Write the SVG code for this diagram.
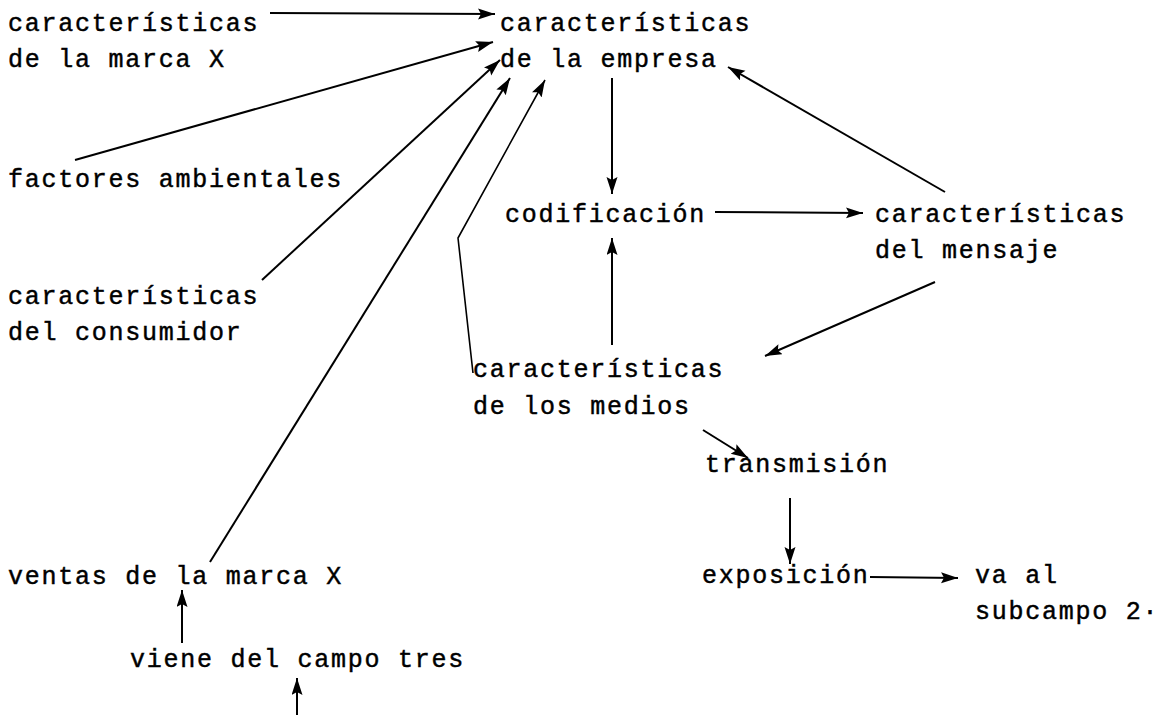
<svg xmlns="http://www.w3.org/2000/svg" width="1172" height="715" viewBox="0 0 1172 715">
  <style>
    .t { font-family: "Liberation Mono", "DejaVu Sans Mono", monospace; font-size: 25px; letter-spacing: 1.75px; fill: #000; stroke: #000; stroke-width: 0.45px; }
    .c { fill: none; stroke: #000; stroke-width: 2; }
    .thin { stroke-width: 1.6; }
  </style>
  <defs>
    <marker id="ah" markerUnits="userSpaceOnUse" markerWidth="20" markerHeight="12" refX="17" refY="5.5" orient="auto">
      <path d="M0,0 L17,5.5 L0,11 L3,5.5 Z" fill="#000"/>
    </marker>
  </defs>
  <rect width="1172" height="715" fill="#fff"/>

  <g id="connectors">
    <line class="c" x1="270" y1="13" x2="495" y2="14" marker-end="url(#ah)"/>
    <line class="c" x1="75" y1="160" x2="493" y2="42" marker-end="url(#ah)"/>
    <line class="c" x1="262" y1="280" x2="500" y2="60" marker-end="url(#ah)"/>
    <line class="c" x1="210" y1="562" x2="510" y2="78" marker-end="url(#ah)"/>
    <polyline class="c thin" points="473,373 458,238 545,80" marker-end="url(#ah)"/>
    <line class="c" x1="612" y1="78" x2="612" y2="194" marker-end="url(#ah)"/>
    <line class="c" x1="715" y1="212" x2="863" y2="213" marker-end="url(#ah)"/>
    <line class="c" x1="945" y1="192" x2="728" y2="67" marker-end="url(#ah)"/>
    <line class="c" x1="935" y1="282" x2="765" y2="356" marker-end="url(#ah)"/>
    <line class="c" x1="612" y1="345" x2="612" y2="238" marker-end="url(#ah)"/>
    <line class="c" x1="703" y1="430" x2="748" y2="458" marker-end="url(#ah)"/>
    <line class="c" x1="790" y1="498" x2="790" y2="564" marker-end="url(#ah)"/>
    <line class="c" x1="870" y1="577" x2="958" y2="578" marker-end="url(#ah)"/>
    <line class="c" x1="182" y1="643" x2="182" y2="590" marker-end="url(#ah)"/>
    <line class="c" x1="297" y1="715" x2="297" y2="678" marker-end="url(#ah)"/>
  </g>

  <g id="marca">
    <text class="t" x="8" y="31">características</text>
    <text class="t" x="8" y="67">de la marca X</text>
  </g>
  <g id="empresa">
    <text class="t" x="500" y="31">características</text>
    <text class="t" x="500" y="67">de la empresa</text>
  </g>
  <g id="ambientales">
    <text class="t" x="8" y="187">factores ambientales</text>
  </g>
  <g id="codificacion">
    <text class="t" x="505" y="222">codificación</text>
  </g>
  <g id="mensaje">
    <text class="t" x="875" y="222">características</text>
    <text class="t" x="875" y="258">del mensaje</text>
  </g>
  <g id="consumidor">
    <text class="t" x="8" y="304">características</text>
    <text class="t" x="8" y="340">del consumidor</text>
  </g>
  <g id="medios">
    <text class="t" x="473" y="377">características</text>
    <text class="t" x="473" y="414">de los medios</text>
  </g>
  <g id="transmision">
    <text class="t" x="705" y="472">transmisión</text>
  </g>
  <g id="ventas">
    <text class="t" x="8" y="584">ventas de la marca X</text>
  </g>
  <g id="exposicion">
    <text class="t" x="702" y="583">exposición</text>
  </g>
  <g id="subcampo">
    <text class="t" x="975" y="583">va al</text>
    <text class="t" x="975" y="619">subcampo 2·</text>
  </g>
  <g id="campo-tres">
    <text class="t" x="130" y="667">viene del campo tres</text>
  </g>
</svg>
